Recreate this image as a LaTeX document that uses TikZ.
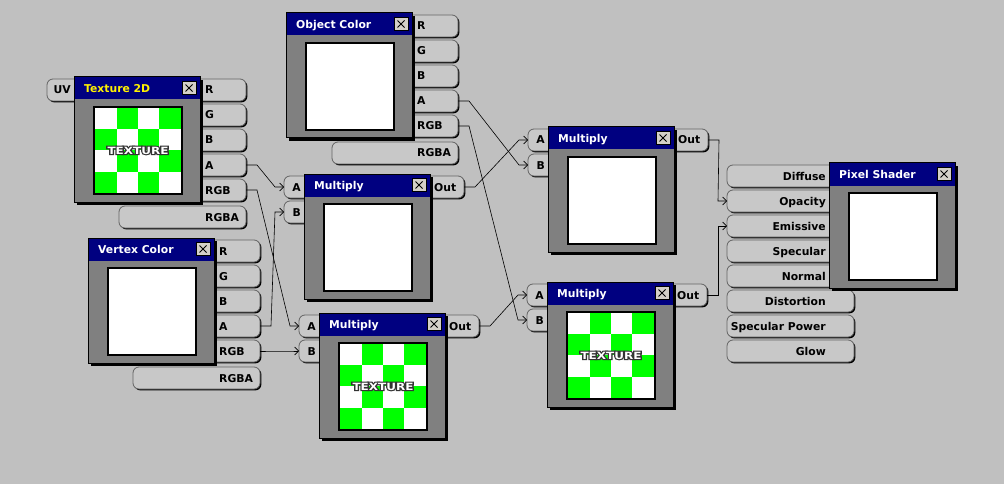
\documentclass[tikz,border=0pt]{standalone}
\usepackage{fontspec}
\usepackage{graphicx}
\setmainfont{DejaVu Sans}
\newfontface\texoutline{DejaVu Sans Bold}[FakeBold=22]
\usetikzlibrary{arrows.meta,calc,shadows}
\definecolor{bg}{RGB}{192,192,192}
\definecolor{pillfill}{RGB}{200,200,200}
\definecolor{pilledge}{RGB}{100,100,100}
\definecolor{winbody}{RGB}{128,128,128}
\definecolor{navy}{RGB}{0,0,128}
\definecolor{btn}{RGB}{212,208,200}
\definecolor{chk}{RGB}{0,255,0}

\newcommand\txtfont{\fontsize{10.8}{12}\selectfont\bfseries}
\newcommand\outlined[1]{\rlap{\texoutline\textcolor{black!80}{#1}}{\bfseries\textcolor{white}{#1}}}

% pills
\newcommand\opill[4]{%
  \node[pill, minimum width=56pt, anchor=north west] (#1) at (#2-10,#3) {};
  \node[ptext, anchor=base west] (#1t) at (#2+5,#3+15) {#4};}
\newcommand\opillw[5]{%
  \node[pill, minimum width={(#2+46-#4)*1pt}, anchor=north west] (#1) at (#4,#3) {};
  \node[ptext, anchor=base west] (#1t) at (#2+5,#3+15) {#5};}
\newcommand\ipill[5]{%
  \node[pill, minimum width={(#2+25-#4)*1pt}, anchor=north west] (#1) at (#4,#3) {};
  \node[ptext, anchor=base east] (#1t) at (#2-3,#3+15) {#5};}
\newcommand\outp[3]{%
  \node[pill, minimum width=44pt, anchor=north west] (#1) at (#2-10,#3) {};
  \node[ptext, anchor=base west] (#1t) at (#2+4,#3+15) {Out};}

% windows
\newcommand\checker[3]{%
  \foreach \ci/\cj in {1/0,3/0,0/1,2/1,1/2,3/2,0/3,2/3}
    \fill[chk] (#1+21.25+\ci*21.35, #2+31.25+\cj*21.1) rectangle ++(21.35,21.1);
  \node[texlbl] (#3tex) at (#1+64,#2+73.5) {\scalebox{1.2}[1]{\outlined{TEXTURE}}};}
\newcommand\win[6]{%
  \fill[black] (#2+3,#3+3) rectangle ++(126,125);
  \node[winbox, anchor=north west] (#1) at (#2,#3) {};
  \fill[navy] (#2+0.5,#3+0.5) rectangle ++(125,22);
  \node[wtitle, text=#5, anchor=base west] (#1title) at (#2+10,#3+15.5) {#4};
  \node[closebtn] (#1close) at (#2+115,#3+11) {};
  \node[imgbox, anchor=north west] (#1img) at (#2+20,#3+30) {};
  \ifnum#6=1 \checker{#2}{#3}{#1}\fi}

\newcommand\wire[2]{\draw[wire] (#1.east) -- ++(11,0) -- ($(#2.west)+(-9pt,0pt)$) -- (#2.west);}

\begin{document}
\begin{tikzpicture}[x=1pt,y=-1pt,
  pill/.style={draw=pilledge, fill=pillfill, rounded corners=6pt, minimum height=22pt,
    inner sep=0pt, outer sep=0pt, line width=0.8pt,
    drop shadow={shadow xshift=1.4pt, shadow yshift=-1.4pt, opacity=1, fill=black}},
  ptext/.style={font=\txtfont, inner sep=0pt, text=black},
  winbox/.style={draw=black, fill=winbody, minimum width=126pt, minimum height=125pt,
    inner sep=0pt, outer sep=0pt, line width=1pt},
  wtitle/.style={font=\txtfont, inner sep=0pt},
  closebtn/.style={draw=black, fill=btn, minimum width=14pt, minimum height=13pt,
    inner sep=0pt, line width=0.8pt,
    path picture={\draw[line width=1pt]
      ([shift={(3.5pt,3pt)}]path picture bounding box.south west) --
      ([shift={(-3.5pt,-3pt)}]path picture bounding box.north east)
      ([shift={(3.5pt,-3pt)}]path picture bounding box.north west) --
      ([shift={(-3.5pt,3pt)}]path picture bounding box.south east);}},
  imgbox/.style={draw=black, fill=white, line width=2.5pt, minimum width=88pt,
    minimum height=87pt, inner sep=0pt, outer sep=0pt},
  texlbl/.style={font=\fontsize{10}{12}\selectfont, inner sep=0pt},
  wire/.style={draw=black, line width=0.6pt, -{Straight Barb[length=4pt,width=8pt]}}
]
\fill[bg] (0,0) rectangle (1004,484);
\useasboundingbox (0,0) rectangle (1004,484);

% ---- pills: Texture 2D
\ipill{texUV}{74}{79}{47}{UV}
\opill{texR}{200}{79}{R}
\opill{texG}{200}{104}{G}
\opill{texB}{200}{129}{B}
\opill{texA}{200}{154}{A}
\opill{texRGB}{200}{179}{RGB}
\opillw{texRGBA}{200}{206}{119}{RGBA}
% ---- Object Color
\opill{objR}{412}{15}{R}
\opill{objG}{412}{40}{G}
\opill{objB}{412}{65}{B}
\opill{objA}{412}{90}{A}
\opill{objRGB}{412}{115}{RGB}
\opillw{objRGBA}{412}{142}{332}{RGBA}
% ---- Vertex Color
\opill{vtxR}{214}{240}{R}
\opill{vtxG}{214}{265}{G}
\opill{vtxB}{214}{290}{B}
\opill{vtxA}{214}{315}{A}
\opill{vtxRGB}{214}{340}{RGB}
\opillw{vtxRGBA}{214}{367}{133}{RGBA}
% ---- Multiply nodes
\ipill{mAa}{304}{176}{284}{A}
\ipill{mAb}{304}{201}{284}{B}
\outp{mAo}{430}{176}
\ipill{mBa}{319}{315}{299}{A}
\ipill{mBb}{319}{340}{299}{B}
\outp{mBo}{445}{315}
\ipill{mCa}{548}{129}{528}{A}
\ipill{mCb}{548}{154}{528}{B}
\outp{mCo}{674}{129}
\ipill{mDa}{547}{284}{527}{A}
\ipill{mDb}{547}{309}{527}{B}
\outp{mDo}{673}{284}
% ---- Pixel Shader
\ipill{psDiffuse}{829}{165}{727}{Diffuse}
\ipill{psOpacity}{829}{190}{727}{Opacity}
\ipill{psEmissive}{829}{215}{727}{Emissive}
\ipill{psSpecular}{829}{240}{727}{Specular}
\ipill{psNormal}{829}{265}{727}{Normal}
\ipill{psDistortion}{829}{290}{727}{Distortion}
\ipill{psSpecPow}{829}{315}{727}{Specular Power}
\ipill{psGlow}{829}{340}{727}{Glow}

% ---- windows
\win{tex}{74}{77}{Texture 2D}{yellow}{1}
\win{obj}{286}{13}{Object Color}{white}{0}
\win{vtx}{88}{238}{Vertex Color}{white}{0}
\win{mulA}{304}{174}{Multiply}{white}{0}
\win{mulB}{319}{313}{Multiply}{white}{1}
\win{mulC}{548}{127}{Multiply}{white}{0}
\win{mulD}{547}{282}{Multiply}{white}{1}
\win{ps}{829}{163}{Pixel Shader}{white}{0}

% ---- wires
\wire{texA}{mAa}
\wire{texRGB}{mBa}
\wire{vtxA}{mAb}
\wire{vtxRGB}{mBb}
\wire{objA}{mCb}
\wire{objRGB}{mDb}
\wire{mAo}{mCa}
\wire{mBo}{mDa}
\wire{mCo}{psOpacity}
\wire{mDo}{psEmissive}
\end{tikzpicture}
\end{document}
